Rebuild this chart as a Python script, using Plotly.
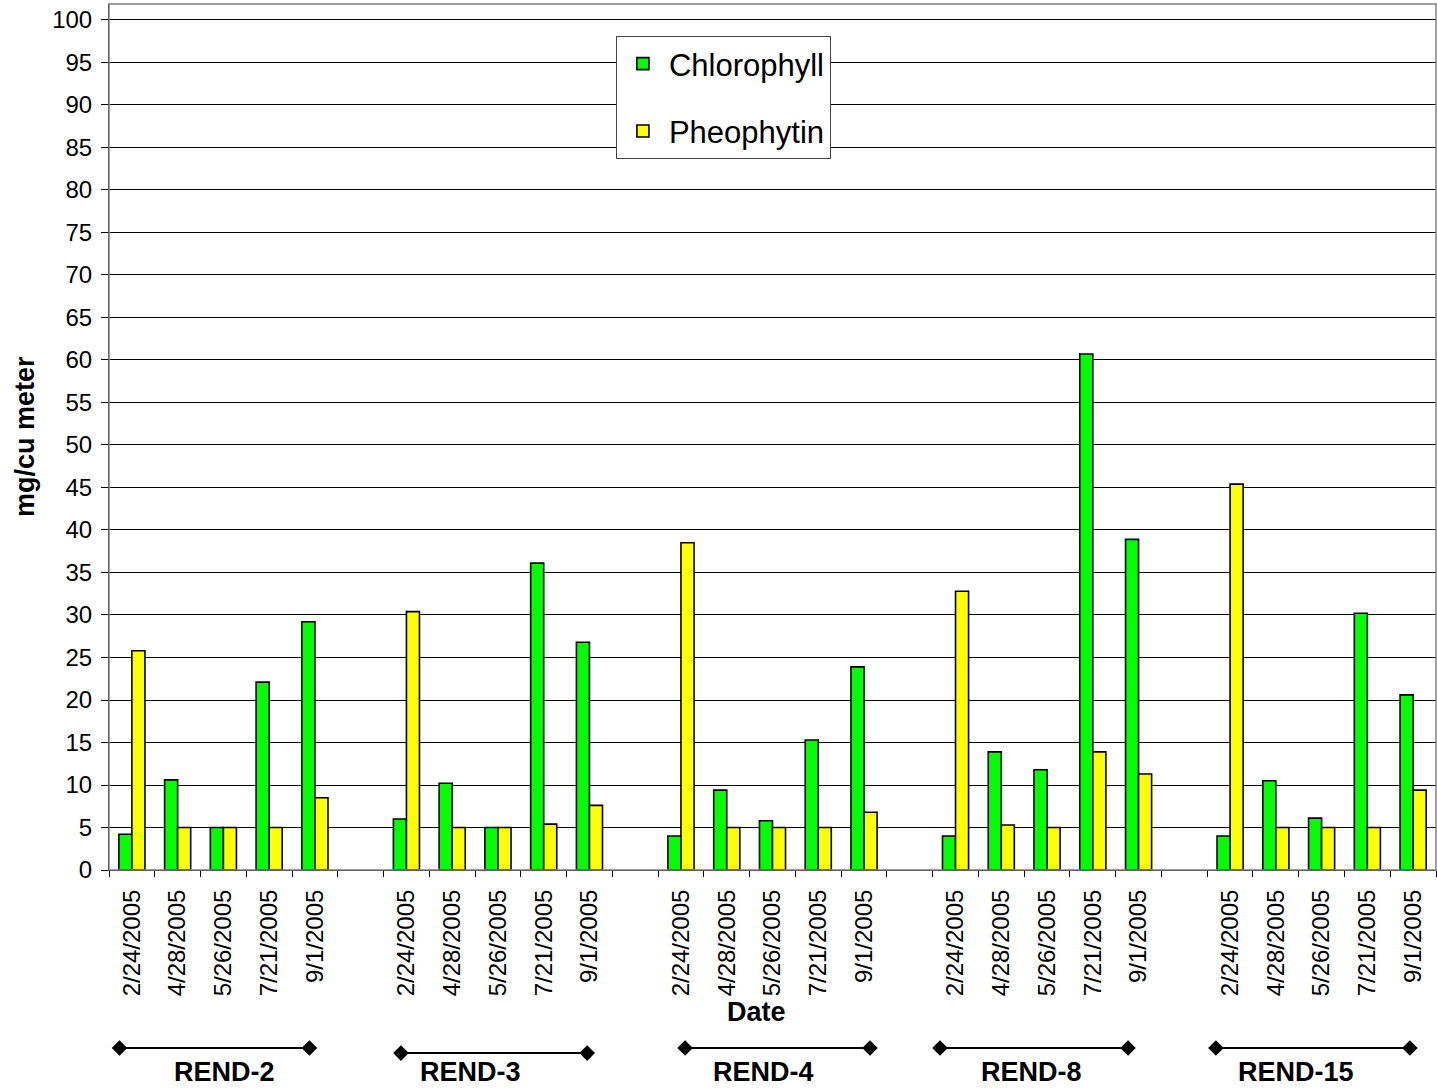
import plotly.graph_objects as go

# ---- data ----
sites = ["REND-2", "REND-3", "REND-4", "REND-8", "REND-15"]
dates = ["2/24/2005", "4/28/2005", "5/26/2005", "7/21/2005", "9/1/2005"]
chlorophyll = [
    [4.2, 10.6, 5.0, 22.1, 29.2],
    [6.0, 10.2, 5.0, 36.1, 26.8],
    [4.0, 9.4, 5.8, 15.3, 23.9],
    [4.0, 13.9, 11.8, 60.7, 38.9],
    [4.0, 10.5, 6.1, 30.2, 20.6],
]
pheophytin = [
    [25.8, 5.0, 5.0, 5.0, 8.5],
    [30.4, 5.0, 5.0, 5.4, 7.6],
    [38.5, 5.0, 5.0, 5.0, 6.8],
    [32.8, 5.3, 5.0, 13.9, 11.3],
    [45.4, 5.0, 5.0, 5.0, 9.4],
]
y_ticks = list(range(0, 101, 5))

# ---- build positions (5 per group, one blank slot between groups) ----
slot = len(dates) + 1
xs, chl, phe, labels = [], [], [], []
for g in range(len(sites)):
    for i, d in enumerate(dates):
        xs.append(g * slot + i)
        chl.append(chlorophyll[g][i])
        phe.append(pheophytin[g][i])
        labels.append(d)
n_slots = len(sites) * slot - 1
x_min, x_max = -0.5, n_slots - 0.5

FONT = "Liberation Sans, Arial, sans-serif"

fig = go.Figure()
fig.add_trace(go.Bar(x=xs, y=chl, name="Chlorophyll", legendgroup="a",
                     marker=dict(color="#00FF00", line=dict(color="black", width=1.6))))
fig.add_trace(go.Bar(x=xs, y=phe, name="Pheophytin", legendgroup="b",
                     marker=dict(color="#FFFF00", line=dict(color="black", width=1.6))))

# decorative group brackets below axis (positions in category units)
br_start = [-0.27, 5.88, 12.09, 17.66, 23.69]
br_end = [3.88, 9.95, 16.13, 21.77, 27.93]
br_y = [0.187, 0.164, 0.187, 0.187, 0.187]
lab_x = [2.03, 7.41, 13.81, 19.67, 25.44]
for g in range(len(sites)):
    fig.add_trace(go.Scatter(x=[br_start[g], br_end[g]], y=[br_y[g], br_y[g]],
                             xaxis="x3", yaxis="y3", mode="lines+markers",
                             line=dict(color="black", width=2),
                             marker=dict(symbol="diamond", size=12, color="black"),
                             showlegend=False, hoverinfo="skip"))
    fig.add_annotation(x=lab_x[g], y=0.078, xref="x3", yref="y3", text="<b>%s</b>" % sites[g],
                       showarrow=False, yanchor="middle", xanchor="center",
                       font=dict(family=FONT, size=27, color="black"))

W, H = 1437, 1089
t, b = 4, 0
ydom0 = (H - 870) / (H - t - b)

fig.update_layout(
    width=W, height=H,
    margin=dict(l=109, r=1, t=t, b=b, autoexpand=False),
    plot_bgcolor="white", paper_bgcolor="white",
    barmode="group", bargap=0.43, bargroupgap=0.0,
    font=dict(family=FONT, color="black", size=24),
    showlegend=True,
    legend=dict(x=0.382, y=0.9705, xanchor="left", yanchor="top",
                bgcolor="white", bordercolor="#444", borderwidth=1,
                font=dict(family=FONT, size=31, color="black"),
                tracegroupgap=24, traceorder="grouped", itemwidth=42),
    xaxis=dict(domain=[0, 1], range=[x_min, x_max], tickmode="array",
               tickvals=xs, ticktext=labels, tickangle=-90, automargin=False,
               ticks="outside", ticklen=9, tickcolor="rgba(0,0,0,0)",
               showgrid=False, zeroline=False, showline=True, linecolor="black", linewidth=1,
               tickfont=dict(family=FONT, size=24, color="black"), anchor="y"),
    xaxis2=dict(overlaying="x", matches="x", anchor="y", tickmode="array", automargin=False,
                tickvals=[i - 0.5 for i in range(n_slots + 1)], ticks="outside", ticklen=6,
                tickcolor="black", showticklabels=False, showgrid=False, zeroline=False,
                showline=False),
    yaxis=dict(domain=[ydom0, 1], range=[0, 101.88], tickmode="array", tickvals=y_ticks,
               ticks="outside", ticklen=7, tickcolor="black", automargin=False,
               ticklabelstandoff=4,
               showgrid=True, gridcolor="black", gridwidth=1, zeroline=False,
               showline=True, linecolor="black", linewidth=1,
               tickfont=dict(family=FONT, size=24, color="black")),
    xaxis3=dict(domain=[0, 1], range=[x_min, x_max], anchor="y3", visible=False, automargin=False),
    yaxis3=dict(domain=[0, ydom0], range=[0, 1], anchor="x3", visible=False, automargin=False),
)
# dummy trace to activate xaxis2 ticks
fig.add_trace(go.Scatter(x=[x_min], y=[0], xaxis="x2", yaxis="y", mode="markers",
                         marker=dict(opacity=0), showlegend=False, hoverinfo="skip"))

# plot-area border (top/right)
fig.add_shape(type="rect", xref="x domain", yref="y domain", x0=0, x1=1, y0=0, y1=1,
              line=dict(color="#808080", width=1.5))

fig.add_annotation(x=(756 - 109) / 1327, y=(H - 1012) / (H - t - b), xref="paper", yref="paper",
                   text="<b>Date</b>", showarrow=False, xanchor="center", yanchor="middle",
                   font=dict(family=FONT, size=27, color="black"))
fig.add_annotation(x=(25 - 109) / 1327, y=(H - 437) / (H - t - b), xref="paper", yref="paper",
                   text="<b>mg/cu meter</b>", showarrow=False, textangle=-90,
                   xanchor="center", yanchor="middle",
                   font=dict(family=FONT, size=27, color="black"))

fig.write_html("out.html", config={"displayModeBar": False},
               post_script="document.body.style.margin='0px';")
